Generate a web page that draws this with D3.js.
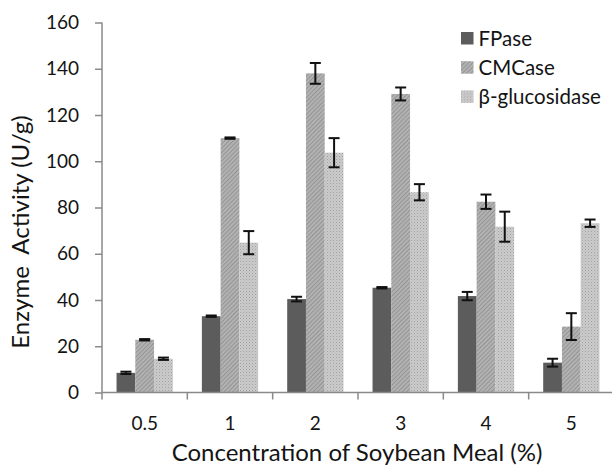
<!DOCTYPE html>
<html>
<head>
<meta charset="utf-8">
<script src="https://cdn.jsdelivr.net/npm/d3@7"></script>
<style>
  html, body { margin: 0; padding: 0; background: #fff; }
  svg { display: block; font-family: Lato, "Open Sans", sans-serif; }
</style>
</head>
<body>
<svg id="chart" width="612" height="467"></svg>
<script>
// Enzyme activity at each soybean meal concentration
const categories = ["0.5", "1", "2", "3", "4", "5"];
const seriesNames = ["FPase", "CMCase", "β-glucosidase"];
const fpase      = [8.5, 33.0, 40.4, 45.3, 41.7, 12.9];
const fpaseErr   = [0.5, 0.3, 1.0, 0.3, 1.8, 1.7];
const cmcase     = [22.8, 110.0, 138.0, 129.1, 82.5, 28.5];
const cmcaseErr  = [0.3, 0.3, 4.5, 2.8, 3.1, 5.8];
const bgluc      = [14.6, 64.8, 103.7, 86.6, 71.7, 73.2];
const bglucErr   = [0.5, 5.0, 6.3, 3.5, 6.5, 1.6];
const yTicks = [0, 20, 40, 60, 80, 100, 120, 140, 160];

const values = [fpase, cmcase, bgluc];
const errors = [fpaseErr, cmcaseErr, bglucErr];

const svg = d3.select("#chart");
const plotLeft = 102, plotRight = 614, plotTop = 22.5, plotBottom = 392.5;
const axisColor = "#8a8a8a";
const textColor = "#141414";

// patterns for the bar fills
const defs = svg.append("defs");
const hatch = defs.append("pattern").attr("id", "hatch")
  .attr("patternUnits", "userSpaceOnUse").attr("width", 3).attr("height", 3)
  .attr("patternTransform", "rotate(45)");
hatch.append("rect").attr("width", 3).attr("height", 3).attr("fill", "#b2b2b2");
hatch.append("rect").attr("width", 1).attr("height", 3).attr("fill", "#959595");

const dots = defs.append("pattern").attr("id", "dots")
  .attr("patternUnits", "userSpaceOnUse").attr("width", 3).attr("height", 3);
dots.append("rect").attr("width", 3).attr("height", 3).attr("fill", "#cbcbcb");
dots.append("rect").attr("width", 1).attr("height", 1).attr("fill", "#a2a2a2");
dots.append("rect").attr("x", 1.5).attr("y", 1.5).attr("width", 1).attr("height", 1).attr("fill", "#b3b3b3");

const fills = ["#5c5c5c", "url(#hatch)", "url(#dots)"];

const x = d3.scaleBand().domain(categories).range([plotLeft, plotRight]).padding(0);
const xs = d3.scaleBand().domain(seriesNames).range([0, x.bandwidth()])
  .paddingInner(0).paddingOuter(0.775);
const y = d3.scaleLinear().domain([0, 160]).range([plotBottom, plotTop]);

// bars
seriesNames.forEach((name, si) => {
  svg.append("g").selectAll("rect")
    .data(categories)
    .join("rect")
    .attr("x", c => x(c) + xs(name))
    .attr("width", xs.bandwidth())
    .attr("y", (c, i) => y(values[si][i]))
    .attr("height", (c, i) => plotBottom - y(values[si][i]))
    .attr("fill", fills[si]);
});

// error bars
const capW = 11;
seriesNames.forEach((name, si) => {
  const g = svg.append("g").attr("stroke", "#111").attr("stroke-width", 2).attr("fill", "none");
  categories.forEach((c, i) => {
    const cx = x(c) + xs(name) + xs.bandwidth() / 2;
    const hi = y(values[si][i] + errors[si][i]);
    const lo = y(values[si][i] - errors[si][i]);
    g.append("line").attr("x1", cx).attr("x2", cx).attr("y1", hi).attr("y2", lo);
    g.append("line").attr("x1", cx - capW / 2).attr("x2", cx + capW / 2).attr("y1", hi).attr("y2", hi);
    g.append("line").attr("x1", cx - capW / 2).attr("x2", cx + capW / 2).attr("y1", lo).attr("y2", lo);
  });
});

// y axis
const yAxis = svg.append("g").attr("transform", `translate(${plotLeft},0)`)
  .call(d3.axisLeft(y).tickValues(yTicks).tickSize(7).tickPadding(16).tickFormat(d3.format("d")));
yAxis.select(".domain").attr("stroke", axisColor).attr("stroke-width", 1.5)
  .attr("d", `M0,${plotTop}V${plotBottom}`);
yAxis.selectAll(".tick line").attr("stroke", axisColor).attr("stroke-width", 1.5);
yAxis.selectAll(".tick text").attr("font-size", 19).attr("fill", textColor)
  .attr("font-family", "Lato, 'Open Sans', sans-serif");

// x axis: labels at band centres, tick marks at band edges
const xAxis = svg.append("g").attr("transform", `translate(0,${plotBottom})`)
  .call(d3.axisBottom(x).tickSize(0).tickPadding(24));
xAxis.select(".domain").attr("stroke", axisColor).attr("stroke-width", 1.5)
  .attr("d", `M${plotLeft},0H${plotRight}`);
xAxis.selectAll(".tick text").attr("font-size", 19).attr("fill", textColor)
  .attr("font-family", "Lato, 'Open Sans', sans-serif");
const edges = categories.map(c => x(c)).concat([x(categories[categories.length - 1]) + x.bandwidth()]);
xAxis.selectAll("line.edge").data(edges).join("line").attr("class", "edge")
  .attr("x1", d => d).attr("x2", d => d).attr("y1", 0).attr("y2", 7)
  .attr("stroke", axisColor).attr("stroke-width", 1.5);

// axis titles
svg.append("text")
  .attr("x", 357).attr("y", 461)
  .attr("text-anchor", "middle").attr("font-size", 24).attr("fill", textColor)
  .text("Concentration of Soybean Meal (%)");

svg.append("text")
  .attr("transform", "translate(29,232) rotate(-90)")
  .attr("text-anchor", "middle").attr("font-size", 24).attr("fill", textColor)
  .attr("xml:space", "preserve").style("white-space", "pre")
  .text("Enzyme  Activity (U/g)");

// legend
const legend = svg.append("g").attr("transform", "translate(461,32)");
seriesNames.forEach((name, si) => {
  const row = legend.append("g").attr("transform", `translate(0,${si * 29.2})`);
  row.append("rect").attr("width", 12.5).attr("height", 12.5).attr("fill", fills[si]);
  row.append("text").attr("x", 17.5).attr("y", 13.5)
    .attr("font-size", 20.5).attr("fill", textColor).text(name);
});
</script>
</body>
</html>
